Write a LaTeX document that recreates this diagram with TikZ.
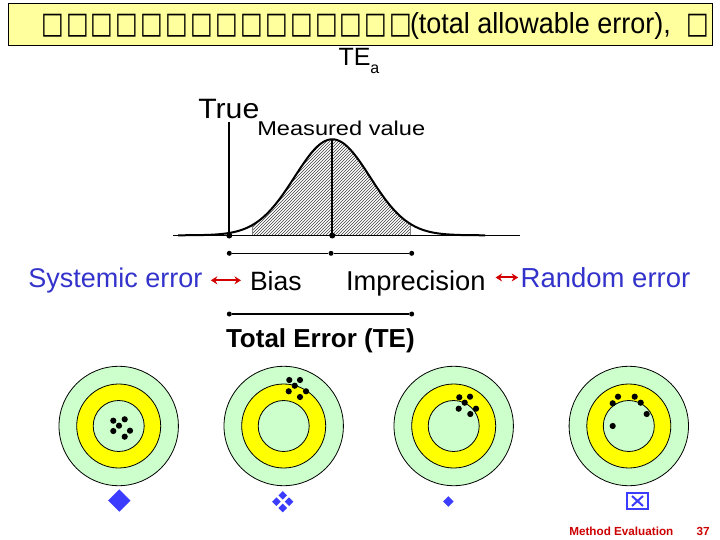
\documentclass[tikz,border=0pt]{standalone}
\usepackage{fontspec}
\setmainfont{Liberation Sans}
\newfontfamily\dejavu{DejaVu Sans}
\usetikzlibrary{patterns,arrows.meta}
\definecolor{titlefill}{RGB}{255,255,158}
\definecolor{ringgreen}{RGB}{204,255,204}
\definecolor{ringyellow}{RGB}{255,255,0}
\definecolor{txtblue}{RGB}{51,51,204}
\definecolor{symblue}{RGB}{60,60,255}
\definecolor{arrred}{RGB}{210,0,0}
\definecolor{footred}{RGB}{204,0,0}
\newcommand{\fsz}[1]{\fontsize{#1}{#1}\selectfont}
\tikzset{
  lbl/.style={anchor=base west, inner sep=0pt, outer sep=0pt},
  tofu/.style={inner sep=0pt, font=\dejavu\fsz{30}},
  dotpt/.style={circle, fill=black, inner sep=0pt, minimum size=5pt},
  bigdot/.style={circle, fill=black, inner sep=0pt, minimum size=6pt},
  hitdot/.style={circle, fill=black, inner sep=0pt, minimum size=6.2pt},
  ringline/.style={draw=black, line width=0.8pt},
  redarrow/.style={draw=arrred, line width=2pt, {Stealth[length=6.5pt,width=8pt]}-{Stealth[length=6.5pt,width=8pt]}},
  segline/.style={draw=black, line width=1.4pt},
}
\begin{document}
\begin{tikzpicture}[x=1pt,y=-1pt]
\useasboundingbox (0,0) rectangle (720,540);
% title
\node[draw=black, line width=0.9pt, fill=titlefill, anchor=north west, minimum width=704pt, minimum height=42pt, inner sep=0pt] (titlebox) at (8,3.5) {};
\foreach \i in {0,...,14} {
  \node[tofu] (tf\i) at ({52.5+24.9*\i},26) {\scalebox{0.8}[1]{□}};
}
\node[tofu] (tflast) at (698,26) {\scalebox{0.8}[1]{□}};
\node[lbl, font=\fsz{29}] (titletext) at (410,34) {\scalebox{0.93}[1]{(total allowable error),}};
\node[lbl, font=\fsz{25}] (tea) at (338.5,65.5) {TE\raisebox{-8pt}{\fsz{16}a}};
% curve
\node[lbl, font=\fsz{28}] (true) at (198.3,118.3) {\scalebox{1.08}[1]{True}};
\node[lbl, font=\fsz{20}] (meas) at (257.3,135.5) {\scalebox{1.18}[1]{Measured value}};
\fill[pattern=north east lines, pattern color=black!75]
  plot[domain=252.3:410.7, samples=60] (\x, {235.3 - 96*exp(-0.5*((\x-332.3)/37.8)^2)})
  -- (410.7,235.3) -- (252.3,235.3) -- cycle;
\draw[gray, line width=0.6pt] (252.3,235.3) -- (252.3,{235.3 - 96*exp(-0.5*((252.3-332.3)/37.8)^2)});
\draw[gray, line width=0.6pt] (410.7,235.3) -- (410.7,{235.3 - 96*exp(-0.5*((410.7-332.3)/37.8)^2)});
\draw[black, line width=0.9pt] (173.3,235.3) -- (520,235.3);
\draw[black, line width=2pt, line join=round]
  plot[domain=178:485, samples=150] (\x, {235.3 - 96*exp(-0.5*((\x-332.3)/37.8)^2)});
\node[bigdot] (tdot) at (229.3,235.5) {};
\node[bigdot] (mdot) at (332.3,235.5) {};
\coordinate (ttop) at (229.3,121.7);
\coordinate (mtop) at (332.3,140);
\draw[black, line width=1.8pt] (tdot.center) -- (ttop);
\draw[black, line width=1.8pt] (mdot.center) -- (mtop);
% segments
\node[dotpt] (s1) at (229.3,253.3) {};
\node[dotpt] (s2) at (331,253.3) {};
\node[dotpt] (s3) at (411.7,253.3) {};
\draw[segline] (s1) -- (s2) -- (s3);
\node[dotpt] (u1) at (229.3,314) {};
\node[dotpt] (u2) at (411.7,314) {};
\draw[segline] (u1) -- (u2);
% labels row
\node[lbl, font=\fsz{27}, text=txtblue] (sys) at (28.3,287.3) {Systemic error};
\node[lbl, font=\fsz{26.5}] (bias) at (250,290) {Bias};
\node[lbl, font=\fsz{27.3}] (imp) at (346,290) {Imprecision};
\node[lbl, font=\fsz{27.5}, text=txtblue] (rand) at (520.7,287.3) {Random error};
\draw[redarrow, shorten <=8.5pt, shorten >=9pt] (sys.east) -- (sys.east -| bias.west);
\draw[redarrow, shorten <=10pt, shorten >=2.5pt] (imp.east |- rand.west) -- (rand.west);
\node[lbl, font=\bfseries\fsz{26}] (total) at (226,347.3) {Total Error (TE)};
% targets
\foreach \cx/\n in {118.7/1,283.7/2,453.7/3,628.8/4} {
  \node[circle, ringline, fill=ringgreen, minimum size=119.4pt, inner sep=0pt] (tgo\n) at (\cx,426) {};
  \node[circle, ringline, fill=ringyellow, minimum size=84pt, inner sep=0pt] (tgy\n) at (\cx,426) {};
  \node[circle, ringline, fill=ringgreen, minimum size=51pt, inner sep=0pt] (tgi\n) at (\cx,426) {};
}
\foreach \px/\py [count=\k] in {113.3/420.7,124.7/419.3,119/425.7,113.3/431,130/430.7,124.7/436.7,
  289.3/380,300/380,294.7/385.7,288.7/391.3,306/391.3,300/397,
  459.3/397.3,470/396.7,464.7/402.7,458.7/408.7,476/408.7,470.3/414,
  618/396.7,634.7/396.7,612.7/403.3,640.7/402.7,646.7/414,612.7/426} {
  \node[hitdot] (hit\k) at (\px,\py) {};
}
% symbols
\fill[symblue] (119.3,500.5) +(0,-11.2) -- +(11.2,0) -- +(0,11.2) -- +(-11.2,0) -- cycle;
\foreach \dx/\dy in {0/-6.3,-6.3/0,6.3/0,0/6.3} {
  \fill[symblue] (282.7,501.7) ++(\dx,\dy) +(0,-4.3) -- +(4.3,0) -- +(0,4.3) -- +(-4.3,0) -- cycle;
}
\fill[symblue] (448.3,501.5) +(0,-5.3) -- +(5.3,0) -- +(0,5.3) -- +(-5.3,0) -- cycle;
\draw[symblue, line width=2.6pt] (626.9,493) rectangle (648.1,508.8);
\draw[symblue, line width=2pt] (632,496) -- (643,506) (632,506) -- (643,496);
% footer
\node[lbl, font=\bfseries\fsz{11.7}, text=footred] (foot) at (569.3,535) {Method Evaluation};
\node[lbl, font=\bfseries\fsz{11.7}, text=footred] (page) at (696.7,535) {37};
\end{tikzpicture}
\end{document}
